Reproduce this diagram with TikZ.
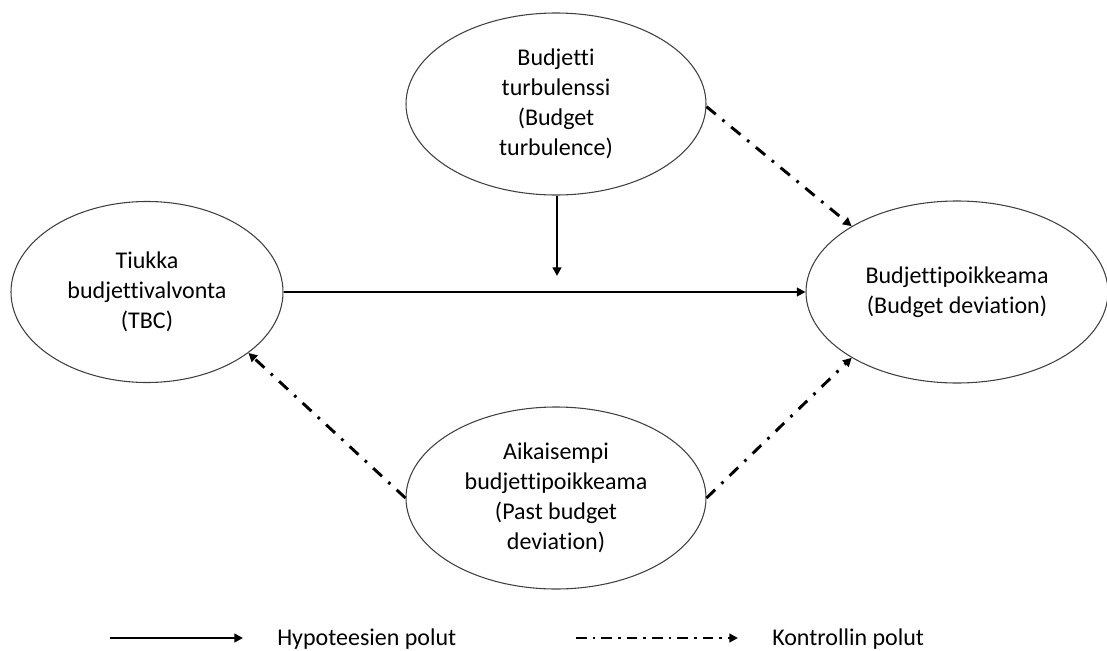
\documentclass[tikz,border=0pt]{standalone}
\usepackage{fontspec}
\setmainfont{Carlito}[Ligatures={NoCommon}]
\usetikzlibrary{shapes.geometric,arrows.meta}

\tikzset{
  concept/.style={ellipse, draw=black!75, line width=0.8pt, inner sep=0pt,
    minimum width=225pt, minimum height=136.5pt, align=center,
    font=\fontsize{18}{22.5}\selectfont},
  hypo/.style={line width=2.2pt, -{Triangle[length=6.5pt,width=6.5pt]}},
  ctrl/.style={line width=2.2pt, dash pattern=on 9pt off 6.5pt on 2pt off 6.5pt,
    -{Triangle[length=6.5pt,width=6.5pt]}},
  ctrlkey/.style={line width=2.2pt, dash pattern=on 8pt off 4.5pt on 2pt off 4.5pt,
    -{Triangle[length=6.5pt,width=6.5pt]}},
  keytext/.style={anchor=base west, inner sep=0pt, font=\fontsize{18}{22.5}\selectfont},
}

\begin{document}
\begin{tikzpicture}[x=0.75pt, y=-0.75pt]
  \useasboundingbox (0,0) rectangle (1107,650);

  % constructs of the model
  \node[concept, minimum width=204pt, minimum height=135.75pt] (tbc) at (147,292)
    {Tiukka\\budjettivalvonta\\(TBC)};
  \node[concept] (turb) at (556,104)
    {Budjetti\\turbulenssi\\(Budget\\turbulence)};
  \node[concept, minimum width=226.5pt] (dev) at (957,292)
    {Budjettipoikkeama\\(Budget deviation)};
  \node[concept] (past) at (556,498)
    {Aikaisempi\\budjettipoikkeama\\(Past budget\\deviation)};

  % hypothesised paths
  \coordinate (mod) at (557,276);
  \draw[hypo] (turb.south -| mod) -- (mod);
  \draw[hypo] (tbc.east) -- (dev.west);

  % control paths
  \draw[ctrl] (turb.-1) -- (dev.148.6);
  \draw[ctrl] (past.west) -- (tbc.-31.5);
  \draw[ctrl] (past.east) -- (dev.-148);

  % key
  \coordinate (k1a) at (110,638);
  \coordinate (k1b) at (243,638);
  \coordinate (k2a) at (576,638);
  \coordinate (k2b) at (738,638);
  \draw[hypo] (k1a) -- (k1b);
  \draw[ctrlkey] (k2a) -- (k2b);
  \node[keytext] (k1t) at (277,645) {Hypoteesien polut};
  \node[keytext] (k2t) at (772,645) {Kontrollin polut};
\end{tikzpicture}
\end{document}
